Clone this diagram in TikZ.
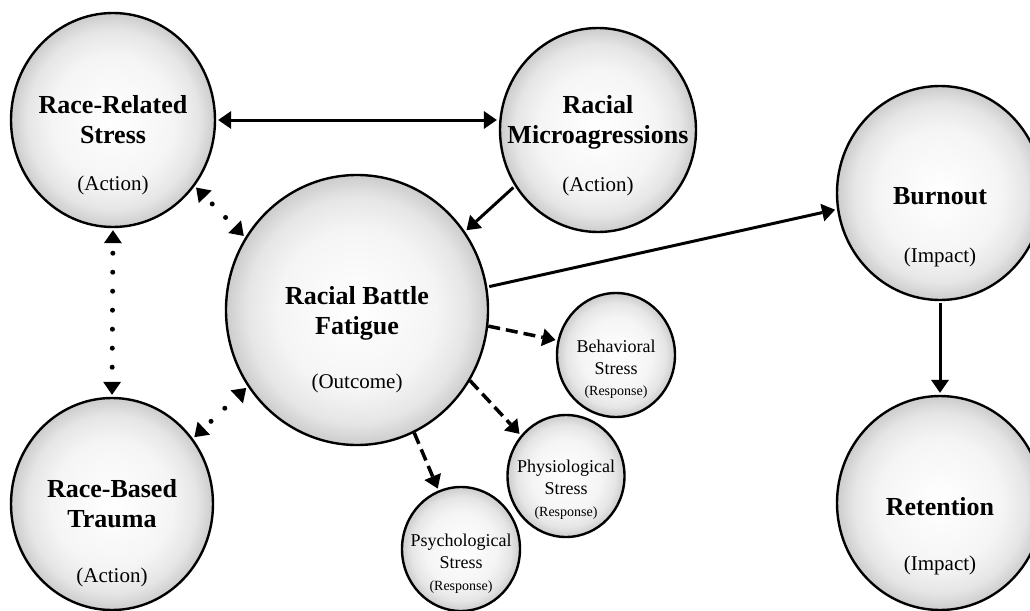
\documentclass[tikz,border=0pt]{standalone}
\usepackage{fontspec}
\setmainfont{Liberation Serif}
\usetikzlibrary{shapes.geometric, arrows.meta}
\pgfdeclareradialshading{bubbleshade}{\pgfpoint{0bp}{0bp}}{%
  color(0bp)=(white); color(15bp)=(black!4); color(21bp)=(black!10); color(25bp)=(black!20); color(50bp)=(black!20)}
\tikzset{>={Triangle[length=13pt, width=18pt, line width=0pt]}, % Filled triangle heads on all links
    bubble/.style={ % Sets the properties of each circle
    ellipse, draw, line width=2.4pt,
    shading=bubbleshade, inner sep=0pt},
    headtext/.style={font=\bfseries\fontsize{26}{30}\selectfont, align=center, inner sep=0pt, anchor=north},
    subtext/.style={font=\fontsize{21}{25}\selectfont, inner sep=0pt, anchor=base},
    smallhead/.style={font=\fontsize{18}{22}\selectfont, align=center, inner sep=0pt, anchor=north},
    smallsub/.style={font=\fontsize{14}{17}\selectfont, inner sep=0pt, anchor=base},
    link/.style={line width=3pt, shorten >=2pt, shorten <=2pt},
    dotlink/.style={line width=5pt, line cap=round, dash pattern=on 0pt off 19pt, dash phase=9pt,
    shorten >=2pt, shorten <=2pt},
    dashlink/.style={line width=3.5pt, dash pattern=on 12pt off 6pt, shorten >=2pt}}
\begin{document}
\begin{tikzpicture}[x=1pt, y=-1pt]
    \useasboundingbox (0,0) rectangle (1030,610);

    % Actions
    \node[bubble, minimum width=204pt, minimum height=214pt] (rrs) at (113,120) {};
    \node[headtext] (rrs-head) at (113,95) {Race-Related\\Stress};
    \node[subtext] (rrs-sub) at (113,190) {(Action)};

    \node[bubble, minimum width=196pt, minimum height=204pt] (micro) at (598,130) {};
    \node[headtext] (micro-head) at (598,95) {Racial\\Microagressions};
    \node[subtext] (micro-sub) at (598,191) {(Action)};

    \node[bubble, minimum width=202pt, minimum height=212pt] (rbt) at (112,504) {};
    \node[headtext] (rbt-head) at (112,479) {Race-Based\\Trauma};
    \node[subtext] (rbt-sub) at (112,582) {(Action)};

    % Outcome
    \node[bubble, minimum width=262pt, minimum height=270pt] (rbf) at (357,310) {};
    \node[headtext] (rbf-head) at (357,286) {Racial Battle\\Fatigue};
    \node[subtext] (rbf-sub) at (357,388) {(Outcome)};

    % Impacts
    \node[bubble, minimum width=206pt, minimum height=214pt] (burnout) at (940,193) {};
    \node[headtext] (burnout-head) at (940,187) {Burnout};
    \node[subtext] (burnout-sub) at (940,262) {(Impact)};

    \node[bubble, minimum width=206pt, minimum height=214pt] (retention) at (940,503) {};
    \node[headtext] (retention-head) at (940,497) {Retention};
    \node[subtext] (retention-sub) at (940,570) {(Impact)};

    % Responses
    \node[bubble, minimum width=118pt, minimum height=124pt] (beh) at (616,355) {};
    \node[smallhead] (beh-head) at (616,340) {Behavioral\\Stress};
    \node[smallsub] (beh-sub) at (616,395) {(Response)};

    \node[bubble, minimum width=117pt, minimum height=122pt] (phys) at (566,476) {};
    \node[smallhead] (phys-head) at (566,460) {Physiological\\Stress};
    \node[smallsub] (phys-sub) at (566,516) {(Response)};

    \node[bubble, minimum width=118pt, minimum height=124pt] (psych) at (461,549) {};
    \node[smallhead] (psych-head) at (461,534) {Psychological\\Stress};
    \node[smallsub] (psych-sub) at (461,590) {(Response)};

    % Links
    \draw[link, <->] (rrs.east) -- (rrs.east -| micro.west);
    \draw[link, ->] (micro.214) -- (rbf.36);
    \draw[link, ->] (rbf.10) -- (burnout.189);
    \draw[link, ->] (burnout.south) -- (retention.north);

    \draw[dotlink, <->] (rrs.south) -- (rbt.north);
    \draw[dotlink, <->] (rrs.321) -- (rbf.147);
    \draw[dotlink, <->] (rbt.39) -- (rbf.215);

    \draw[dashlink, ->] (rbf.-7) -- (beh.166);
    \draw[dashlink, ->] (rbf.-32) -- (phys.138);
    \draw[dashlink, ->] (rbf.-65) -- (psych.111);
\end{tikzpicture}
\end{document}
